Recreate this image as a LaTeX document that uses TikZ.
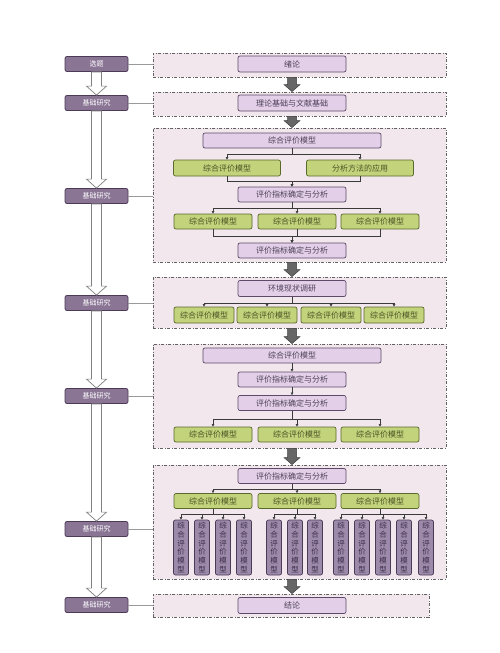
\documentclass[tikz,border=0pt]{standalone}
\usepackage{fontspec}
\newfontfamily\cjk{Noto Sans CJK SC}
\usetikzlibrary{arrows.meta,calc}
\definecolor{leftfill}{HTML}{8A7595}
\definecolor{leftdraw}{HTML}{4B3B56}
\definecolor{pfill}{HTML}{E3D0E8}
\definecolor{pdraw}{HTML}{5C4A68}
\definecolor{ptext}{HTML}{4E3F5A}
\definecolor{gfill}{HTML}{C2D37C}
\definecolor{gdraw}{HTML}{5A6A2A}
\definecolor{gtext}{HTML}{4A5424}
\definecolor{vfill}{HTML}{9D8AAA}
\definecolor{vtext}{HTML}{3B2C47}
\definecolor{panelfill}{HTML}{F3E7EE}
\definecolor{paneldraw}{HTML}{626262}
\definecolor{connc}{HTML}{3A3A3A}
\newcommand{\blockarr}[6]{%
  \path[#1] let \p1=(#2), \p2=(#3) in
    (\x1-#4,\y1) -- (\x1-#4,\y2+#6) -- (\x1-#5,\y2+#6) -- (\x1,\y2)
    -- (\x1+#5,\y2+#6) -- (\x1+#4,\y2+#6) -- (\x1+#4,\y1) -- cycle;}
\begin{document}
\begin{tikzpicture}[x=1pt,y=-1pt,
  leftbox/.style={draw=leftdraw,fill=leftfill,line width=0.8pt,rounded corners=2pt,
    minimum width=63pt,minimum height=15pt,inner sep=0pt,text=white,
    font=\cjk\fontsize{7}{8}\selectfont},
  pbox/.style={draw=pdraw,fill=pfill,line width=0.7pt,rounded corners=2pt,
    minimum width=108pt,minimum height=15pt,inner sep=0pt,text=ptext,
    font=\cjk\fontsize{8}{9}\selectfont},
  pwide/.style={pbox,minimum width=178pt},
  gbox/.style={draw=gdraw,fill=gfill,line width=0.7pt,rounded corners=2pt,
    minimum width=78pt,minimum height=15pt,inner sep=0pt,text=gtext,
    font=\cjk\fontsize{8}{9}\selectfont},
  gsmall/.style={gbox,minimum width=60pt,minimum height=16pt},
  gmid/.style={gbox,minimum width=107pt,minimum height=16pt},
  vbox/.style={draw=leftdraw,fill=vfill,line width=0.7pt,rounded corners=2pt,
    minimum width=15pt,minimum height=55pt,inner sep=0pt,text=vtext,align=center,
    font=\cjk\fontsize{7.5}{8.7}\selectfont},
  panel/.style={draw=paneldraw,fill=panelfill,line width=0.8pt,
    dash pattern=on 3pt off 1.5pt on 1pt off 1.5pt,minimum width=293pt,inner sep=0pt},
  conn/.style={draw=connc,line width=0.5pt,-{Triangle[length=2.6pt,width=2.6pt]}},
  link/.style={draw=gray!80,line width=0.7pt},
  hollowarr/.style={draw=gray,fill=white,line width=0.7pt},
  grayarr/.style={draw=black!75,fill=black!60,line width=0.5pt}
]
\fill[white] (0,0) rectangle (500,653);
\useasboundingbox (0,0) rectangle (500,653);

% panels
\node[panel,minimum height=24pt] (P1) at (299.5,65) {};
\node[panel,minimum height=24pt] (P2) at (299.5,104) {};
\node[panel,minimum height=134pt] (P3) at (299.5,195) {};
\node[panel,minimum height=51pt] (P4) at (299.5,302.5) {};
\node[panel,minimum height=104pt] (P5) at (299.5,396) {};
\node[panel,minimum height=114pt] (P6) at (299.5,522) {};
\node[panel,minimum height=23pt,minimum width=276pt] (P7) at (291,605.5) {};

% left column
\node[leftbox] (L1) at (96.5,64) {选题};
\node[leftbox] (L2) at (96.5,103) {基础研究};
\node[leftbox] (L3) at (96.5,196) {基础研究};
\node[leftbox] (L4) at (96.5,303) {基础研究};
\node[leftbox] (L5) at (96.5,396) {基础研究};
\node[leftbox] (L6) at (96.5,529) {基础研究};
\node[leftbox] (L7) at (96.5,605) {基础研究};

\foreach \a/\b in {L1/L2,L2/L3,L3/L4,L4/L5,L5/L6,L6/L7}
  {\blockarr{hollowarr}{\a.south}{\b.north}{5pt}{10pt}{9pt}}
\foreach \l/\p in {L1/P1,L2/P2,L3/P3,L4/P4,L5/P5,L6/P6,L7/P7}
  {\draw[link] (\l.east) -- (\l.east -| \p.west);}

% panel 1, 2
\node[pbox,minimum height=16pt] (T1) at (292,64) {绪论};
\node[pbox,minimum height=16pt] (T2) at (292,103) {理论基础与文献基础};

% panel 3
\node[pwide] (A1) at (292,140.5) {综合评价模型};
\node[gmid] (G1) at (227,168) {综合评价模型};
\node[gmid] (G2) at (360,168) {分析方法的应用};
\node[pbox] (B1) at (292,194.5) {评价指标确定与分析};
\node[gbox] (G3) at (213,221.5) {综合评价模型};
\node[gbox] (G4) at (297,221.5) {综合评价模型};
\node[gbox] (G5) at (380,221.5) {综合评价模型};
\node[pbox] (B2) at (292,250.5) {评价指标确定与分析};
\foreach \c in {G1,G2} {\draw[conn] (A1.south) -- ++(0,6) -| (\c.north);}
\foreach \c in {G1,G2} {\draw[conn] (\c.south) -- ++(0,5) -| (B1.north);}
\foreach \c in {G3,G4,G5} {\draw[conn] (B1.south) -- ++(0,6) -| (\c.north);}
\foreach \c in {G3,G4,G5} {\draw[conn] (\c.south) -- ++(0,7) -| (B2.north);}

% panel 4
\node[pbox,minimum height=16pt] (E1) at (292,288.5) {环境现状调研};
\node[gsmall] (H1) at (204,315) {综合评价模型};
\node[gsmall] (H2) at (267,315) {综合评价模型};
\node[gsmall] (H3) at (331,315) {综合评价模型};
\node[gsmall] (H4) at (394,315) {综合评价模型};
\foreach \c in {H1,H2,H3,H4} {\draw[conn] (E1.south) -- ++(0,6) -| (\c.north);}

% panel 5
\node[pwide] (A2) at (292,355.5) {综合评价模型};
\node[pbox] (B3) at (292,379.5) {评价指标确定与分析};
\node[pbox] (B4) at (292,403) {评价指标确定与分析};
\node[gbox] (K1) at (213,434.5) {综合评价模型};
\node[gbox] (K2) at (297,434.5) {综合评价模型};
\node[gbox] (K3) at (380,434.5) {综合评价模型};
\draw[conn] (A2.south) -- (B3.north);
\draw[conn] (B3.south) -- (B4.north);
\foreach \c in {K1,K2,K3} {\draw[conn] (B4.south) -- ++(0,8) -| (\c.north);}

% panel 6
\node[pbox] (B5) at (292,476) {评价指标确定与分析};
\node[gbox] (M1) at (213,501) {综合评价模型};
\node[gbox] (M2) at (297,501) {综合评价模型};
\node[gbox] (M3) at (380,501) {综合评价模型};
\foreach \c in {M1,M2,M3} {\draw[conn] (B5.south) -- ++(0,5) -| (\c.north);}
\foreach \i/\x in {1/181,2/202,3/223,4/244,5/274,6/295,7/315,8/341,9/362,10/383,11/404,12/426}
  {\node[vbox] (V\i) at (\x,547.5) {综\\合\\评\\价\\模\\型};}
\foreach \c in {V1,V2,V3,V4} {\draw[conn] (M1.south) -- ++(0,5) -| (\c.north);}
\foreach \c in {V5,V6,V7} {\draw[conn] (M2.south) -- ++(0,5) -| (\c.north);}
\foreach \c in {V8,V9,V10,V11,V12} {\draw[conn] (M3.south) -- ++(0,5) -| (\c.north);}

% panel 7
\node[pbox,minimum height=16pt] (T7) at (292,605.5) {结论};

% gray arrows between panels
\foreach \a/\b in {P1/P2,P2/P3,P3/P4,P4/P5,P5/P6,P6/P7}
  {\blockarr{grayarr}{T1 |- \a.south}{T1 |- \b.north}{4.5pt}{8pt}{7pt}}
\end{tikzpicture}
\end{document}
